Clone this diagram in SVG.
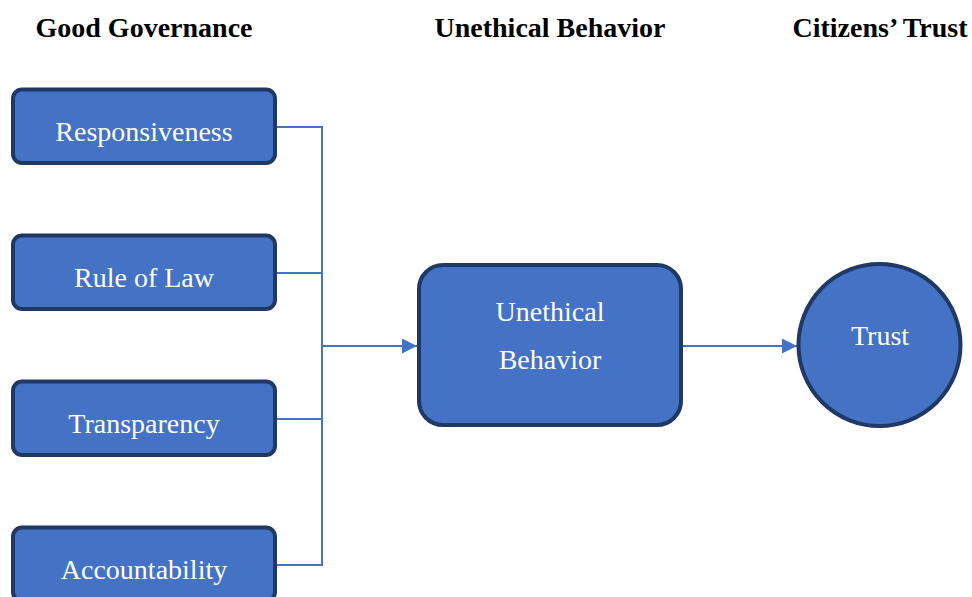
<svg xmlns="http://www.w3.org/2000/svg" width="972" height="597" viewBox="0 0 972 597">
<defs>
<style>
.hdr{font-family:"Liberation Serif","Times New Roman",serif;font-weight:bold;font-size:28px;fill:#000;text-anchor:middle}
.box{fill:#4472C4;stroke:#203864;stroke-width:4}
.lbl{font-family:"Liberation Serif","Times New Roman",serif;font-size:28px;fill:#fff;text-anchor:middle}
.con{fill:none;stroke:#4472C4;stroke-width:2}
</style>
<marker id="arr" markerWidth="15" markerHeight="15" refX="15" refY="7.5" orient="auto" markerUnits="userSpaceOnUse">
<path d="M0,0 L15,7.5 L0,15 Z" fill="#4472C4"/>
</marker>
</defs>
<rect width="972" height="597" fill="#fff"/>
<g id="headers">
<text class="hdr" x="144" y="37">Good Governance</text>
<text class="hdr" x="550" y="37">Unethical Behavior</text>
<text class="hdr" x="880" y="37">Citizens’ Trust</text>
</g>
<g id="connectors">
<path class="con" d="M276,127 H322 M276,273 H322 M276,419 H322 M276,565 H322 M322,126 V566"/>
<path class="con" d="M322,346 H417" marker-end="url(#arr)"/>
<path class="con" d="M682,346 H797" marker-end="url(#arr)"/>
</g>
<g id="responsiveness">
<rect class="box" x="13" y="89.5" width="262" height="73.5" rx="9"/>
<text class="lbl" x="144" y="141">Responsiveness</text>
</g>
<g id="rule-of-law">
<rect class="box" x="13" y="235.5" width="262" height="73.5" rx="9"/>
<text class="lbl" x="144" y="286.5">Rule of Law</text>
</g>
<g id="transparency">
<rect class="box" x="13" y="381.5" width="262" height="73.5" rx="9"/>
<text class="lbl" x="144" y="432.5">Transparency</text>
</g>
<g id="accountability">
<rect class="box" x="13" y="527.5" width="262" height="73.5" rx="9"/>
<text class="lbl" x="144" y="578.5">Accountability</text>
</g>
<g id="unethical-behavior">
<rect class="box" x="419" y="265" width="262" height="160" rx="24"/>
<text class="lbl" x="550" y="321">Unethical</text>
<text class="lbl" x="550" y="369">Behavior</text>
</g>
<g id="trust">
<circle class="box" cx="879.5" cy="345" r="81"/>
<text class="lbl" x="880" y="345">Trust</text>
</g>
</svg>
